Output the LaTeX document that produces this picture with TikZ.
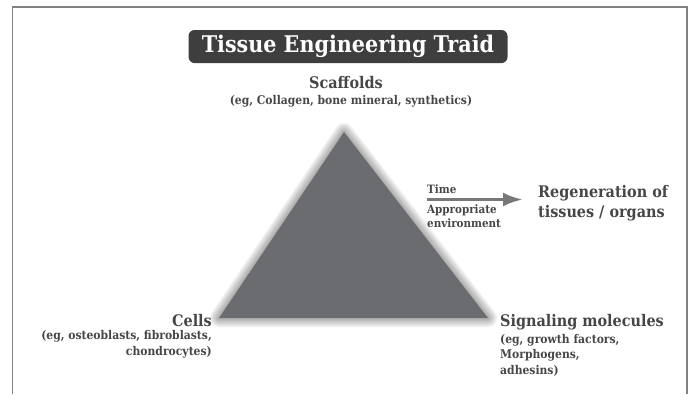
\documentclass[tikz,border=0pt]{standalone}
\usepackage{fontspec}
\setmainfont{DejaVu Serif Condensed}
\usepackage{tikz}
\usetikzlibrary{positioning, arrows.meta}
\definecolor{titlebg}{RGB}{62, 62, 62}
\definecolor{triangle}{RGB}{106, 108, 111}
\definecolor{labelgray}{RGB}{70, 70, 70}
\definecolor{arrowgray}{RGB}{120, 120, 120}

\begin{document}
\begin{tikzpicture}[
    x=1pt, y=-1pt,
    font=\bfseries,
    label/.style={text=labelgray, inner sep=0pt, font=\bfseries\fontsize{16}{20}\selectfont},
    note/.style={text=labelgray, inner sep=0pt, font=\bfseries\fontsize{12}{15.5}\selectfont},
    small/.style={text=labelgray, inner sep=0pt, font=\bfseries\fontsize{11.5}{13.5}\selectfont},
  ]
    \useasboundingbox (0,0) rectangle (690,394);
    % Frame (open at the bottom)
    \draw[line width=1.2pt, gray] (12.5,394) -- (12.5,7) -- (687,7) -- (687,394);

    % Title
    \node[fill=titlebg, rounded corners=6pt, text=white, minimum width=319pt,
          minimum height=33pt, inner sep=0pt,
          font=\bfseries\fontsize{23}{26}\selectfont] (title) at (348,46.5) {Tissue Engineering Traid};

    % Triangle with a soft glow
    \coordinate (top) at (344,132);
    \coordinate (left) at (219,318);
    \coordinate (right) at (488,318);
    \foreach \w in {18,15,12,9,6,3}
      \draw[line width=\w pt, line join=round, black, opacity=0.06, xshift=1.5pt, yshift=-1.5pt]
        (top) -- (left) -- (right) -- cycle;
    \fill[triangle] (top) -- (left) -- (right) -- cycle;

    % Corner labels
    \node[label, anchor=base] (scaffolds) at (346,88) {Scaffolds};
    \node[note, anchor=base] (scafnote) at (351,104) {(eg, Collagen, bone mineral, synthetics)};

    \node[label, anchor=base east] (cells) at (212,326) {Cells};
    \node[note, align=right, below=4pt of cells.south east, anchor=north east] (cellnote)
      {(eg, osteoblasts, fibroblasts,\\chondrocytes)};

    \node[label, anchor=base west] (signal) at (500,326) {Signaling molecules};
    \node[note, align=left, below=4pt of signal.south west, anchor=north west] (signote)
      {(eg, growth factors,\\Morphogens,\\adhesins)};

    % Outcome
    \node[label, align=left, anchor=west] (regen) at (538,203)
      {Regeneration of\\tissues / organs};
    \coordinate (arrowstart) at (427,199.5);
    \draw[arrowgray, line width=3.5pt, -{Latex[length=20pt, width=14pt]}, shorten >=15pt]
      (arrowstart) -- (regen.west |- arrowstart);
    \node[small, anchor=base west] (time) at (427,193) {Time};
    \node[small, align=left, anchor=north west] (env) at (427,205) {Appropriate\\environment};
\end{tikzpicture}
\end{document}
